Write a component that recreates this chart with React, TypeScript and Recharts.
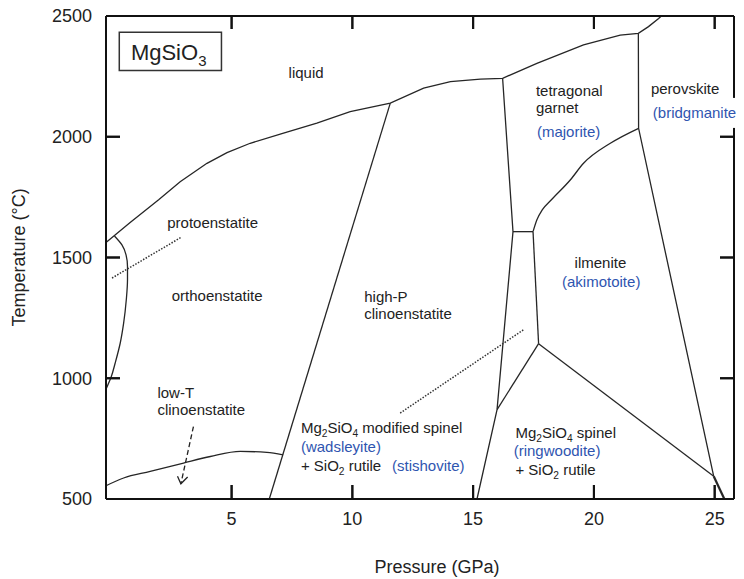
import React from 'react';
import { ComposedChart, Line, XAxis, YAxis, ReferenceArea, ReferenceDot } from 'recharts';

const FONT = '"Liberation Sans", Arial, Helvetica, sans-serif';
const INK = '#222222';
const BLUE = '#2f55b0';

// axis ticks
const xTicks = [5, 10, 15, 20, 25];
const yTicks = [500, 1000, 1500, 2000, 2500];
const yTicksRight = [1000, 1500, 2000];
const xDomain: [number, number] = [-0.2, 25.8];
const yDomain: [number, number] = [500, 2500];

// phase boundaries (p: GPa, t: °C)
const liquidus = [
  { p: -0.2, t: 1562 }, { p: 0.8, t: 1645 }, { p: 1.98, t: 1739 }, { p: 2.87, t: 1814 },
  { p: 3.98, t: 1890 }, { p: 4.81, t: 1934 }, { p: 5.77, t: 1973 }, { p: 7.15, t: 2015 },
  { p: 8.53, t: 2056 }, { p: 9.91, t: 2104 }, { p: 11.57, t: 2139 }, { p: 12.95, t: 2201 },
  { p: 14.06, t: 2228 }, { p: 15.3, t: 2239 }, { p: 16.22, t: 2242 }, { p: 17.64, t: 2304 },
  { p: 19.57, t: 2380 }, { p: 21.09, t: 2421 }, { p: 21.84, t: 2428 }, { p: 22.26, t: 2456 },
  { p: 22.68, t: 2490 }, { p: 22.79, t: 2500 },
];
const protoBoundary = [
  { p: 0.15, t: 1589 }, { p: 0.46, t: 1552 }, { p: 0.63, t: 1511 }, { p: 0.69, t: 1463 },
  { p: 0.69, t: 1408 }, { p: 0.64, t: 1325 }, { p: 0.53, t: 1228 }, { p: 0.39, t: 1146 },
  { p: 0.18, t: 1063 }, { p: 0.02, t: 1007 }, { p: -0.2, t: 955 },
];
const lowTBoundary = [
  { p: -0.2, t: 555 }, { p: 0.53, t: 587 }, { p: 1.63, t: 614 }, { p: 3.01, t: 649 },
  { p: 4.12, t: 676 }, { p: 5.36, t: 697 }, { p: 6.46, t: 693 }, { p: 7.13, t: 683 },
];
const orthoHighP = [{ p: 6.56, t: 500 }, { p: 11.57, t: 2139 }];
const garnetLeft = [{ p: 16.22, t: 2242 }, { p: 16.65, t: 1607 }, { p: 15.99, t: 870 }, { p: 15.16, t: 500 }];
const narrowTop = [{ p: 16.65, t: 1607 }, { p: 17.48, t: 1607 }];
const narrowRight = [{ p: 17.48, t: 1607 }, { p: 17.71, t: 1143 }];
const spinelLeft = [{ p: 17.71, t: 1143 }, { p: 15.99, t: 870 }];
const spinelRight = [{ p: 17.71, t: 1143 }, { p: 24.96, t: 594 }];
const garnetIlmenite = [
  { p: 17.48, t: 1607 }, { p: 17.64, t: 1656 }, { p: 17.86, t: 1697 }, { p: 18.24, t: 1739 },
  { p: 19.02, t: 1821 }, { p: 19.57, t: 1890 }, { p: 20.68, t: 1973 }, { p: 21.85, t: 2035 },
];
const perovskiteBoundary = [{ p: 21.84, t: 2428 }, { p: 21.85, t: 2035 }, { p: 24.96, t: 594 }];
const bottomRight = [{ p: 24.96, t: 594 }, { p: 25.4, t: 500 }];

// pointers
const protoPointer = [{ p: 0.05, t: 1415 }, { p: 2.92, t: 1584 }];
const midPointer = [{ p: 11.98, t: 856 }, { p: 17.09, t: 1201 }];
const arrowShaft = [{ p: 3.42, t: 800 }, { p: 2.9, t: 563 }];
const arrowHead = [{ p: 2.76, t: 594 }, { p: 2.9, t: 563 }, { p: 3.18, t: 591 }];

// labels (left edge, baseline) ; "_n" marks a subscript
const blackLabels = [
  { p: 2.335, t: 1623, text: 'protoenstatite' },
  { p: 2.52, t: 1321, text: 'orthoenstatite' },
  { p: 1.93, t: 918, text: 'low-T' },
  { p: 1.93, t: 849, text: 'clinoenstatite' },
  { p: 7.36, t: 2243, text: 'liquid' },
  { p: 17.6, t: 2169, text: 'tetragonal' },
  { p: 17.6, t: 2097, text: 'garnet' },
  { p: 22.36, t: 2177, text: 'perovskite' },
  { p: 10.49, t: 1316, text: 'high-P' },
  { p: 10.49, t: 1246, text: 'clinoenstatite' },
  { p: 19.2, t: 1457, text: 'ilmenite' },
  { p: 7.87, t: 773, text: 'Mg_2SiO_4 modified spinel' },
  { p: 7.87, t: 614, text: '+ SiO_2 rutile' },
  { p: 16.75, t: 754, text: 'Mg_2SiO_4 spinel' },
  { p: 16.75, t: 598, text: '+ SiO_2 rutile' },
];
const blueLabels = [
  { p: 17.64, t: 2000, text: '(majorite)' },
  { p: 18.68, t: 1378, text: '(akimotoite)' },
  { p: 7.87, t: 694, text: '(wadsleyite)' },
  { p: 11.64, t: 614, text: '(stishovite)' },
  { p: 16.68, t: 676, text: '(ringwoodite)' },
];
const blueEdgeLabels = [{ p: 22.44, t: 2078, text: '(bridgmanite)' }];
const titleLabel = [{ p: 0.83, t: 2318, text: 'MgSiO_3' }];
const titleBox = { p1: 0.35, p2: 4.58, t1: 2274, t2: 2433 };

// plot size in px, used to express the inward tick length in data units
const PLOT_W = 628;
const PLOT_H = 483;
const TICK_LEN = 14;
const TICK_STROKE = '#111';
const tickDP = (TICK_LEN * (xDomain[1] - xDomain[0])) / PLOT_W;
const tickDT = (TICK_LEN * (yDomain[1] - yDomain[0])) / PLOT_H;

const bottomTickMarks = xTicks.flatMap((v) => [
  { p: v, t: yDomain[0] }, { p: v, t: yDomain[0] + tickDT }, { p: v, t: null },
]);
const topTickMarks = xTicks.flatMap((v) => [
  { p: v, t: yDomain[1] }, { p: v, t: yDomain[1] - tickDT * 0.93 }, { p: v, t: null },
]);
const leftTickMarks = yTicks.flatMap((v) => [
  { p: xDomain[0], t: v }, { p: xDomain[0] + tickDP, t: v }, { p: xDomain[0] + tickDP, t: null },
]);
const rightTickMarks = yTicksRight.flatMap((v) => [
  { p: xDomain[1], t: v }, { p: xDomain[1] - tickDP, t: v }, { p: xDomain[1] - tickDP, t: null },
]);

function RichText({ x, y, text, color, size, backing }: any) {
  const parts = String(text).split(/(_\d)/).filter((s) => s.length > 0);
  const shift = size * 0.26;
  let sub = false;
  const kids: any[] = [];
  parts.forEach((part, i) => {
    if (part.startsWith('_')) {
      kids.push(
        <tspan key={i} fontSize={size * 0.68} dy={shift}>
          {part.slice(1)}
        </tspan>
      );
      sub = true;
    } else {
      kids.push(
        <tspan key={i} dy={sub ? -shift : 0}>
          {part}
        </tspan>
      );
      sub = false;
    }
  });
  return (
    <g>
      {backing ? <rect x={x - 2} y={y - 20} width={94} height={30} fill="#fff" /> : null}
      <text x={x} y={y} fill={color} fontSize={size} fontFamily={FONT} style={{ whiteSpace: 'pre' }}>
        {kids}
      </text>
    </g>
  );
}

const renderLabels = (items: any[], color: string, size: number, prefix: string, backing = false) =>
  items.map((d, i) => (
    <ReferenceDot
      key={prefix + i}
      x={d.p}
      y={d.t}
      r={0}
      ifOverflow="visible"
      shape={(props: any) => (
        <RichText x={props.cx} y={props.cy} text={d.text} color={color} size={size} backing={backing} />
      )}
    />
  ));

// custom ticks: inward tick marks + labels
const BottomTick = (props: any) => {
  const { x, y, payload } = props;
  return (
    <g>
      <line x1={x} x2={x} y1={y} y2={y - TICK_LEN} stroke={TICK_STROKE} strokeWidth={2} />
      <text x={x} y={y + 13} dy="0.71em" textAnchor="middle" fill={INK} fontSize={18} fontFamily={FONT}>
        {payload.value}
      </text>
    </g>
  );
};
const LeftTick = (props: any) => {
  const { x, y, payload } = props;
  return (
    <g>
      <line x1={x} x2={x + TICK_LEN} y1={y} y2={y} stroke={TICK_STROKE} strokeWidth={2} />
      <text x={x - 14} y={y} dy="0.36em" textAnchor="end" fill={INK} fontSize={18} fontFamily={FONT}>
        {payload.value}
      </text>
    </g>
  );
};
const TopTick = (props: any) => {
  const { x, y } = props;
  return <line x1={x} x2={x} y1={y} y2={y + 13} stroke={TICK_STROKE} strokeWidth={2} />;
};
const RightTick = (props: any) => {
  const { x, y } = props;
  return <line x1={x} x2={x - TICK_LEN} y1={y} y2={y} stroke={TICK_STROKE} strokeWidth={2} />;
};

const lineProps = {
  dataKey: 't',
  dot: false,
  activeDot: false,
  isAnimationActive: false,
  stroke: '#262626',
  strokeWidth: 1.3,
  type: 'linear' as const,
};
const tickMarkProps = { ...lineProps, stroke: TICK_STROKE, strokeWidth: 2, connectNulls: false };

const axisLine = { stroke: '#111', strokeWidth: 2 };

export default function App() {
  return (
    <div style={{ fontFamily: FONT, width: 736, height: 571 }}>
      <style>{'.recharts-surface{overflow:visible}'}</style>
      <ComposedChart width={736} height={571} margin={{ top: 7, right: 9, left: 0, bottom: 0 }}>
        <XAxis
          xAxisId={0}
          type="number"
          dataKey="p"
          domain={xDomain}
          ticks={xTicks}
          interval={0}
          height={80}
          axisLine={axisLine}
          tickLine={false}
          tickSize={0}
          tickMargin={0}
          tick={BottomTick}
          label={{ value: 'Pressure (GPa)', position: 'insideBottom', offset: 6, dx: 17, fill: INK, fontSize: 18 }}
        />
        <XAxis
          xAxisId="top"
          orientation="top"
          type="number"
          dataKey="p"
          domain={xDomain}
          ticks={xTicks}
          interval={0}
          height={1}
          axisLine={axisLine}
          tickLine={false}
          tickSize={0}
          tickMargin={0}
          tick={TopTick}
        />
        <YAxis
          yAxisId={0}
          type="number"
          dataKey="t"
          domain={yDomain}
          ticks={yTicks}
          interval={0}
          width={98}
          axisLine={axisLine}
          tickLine={false}
          tickSize={0}
          tickMargin={0}
          tick={LeftTick}
          label={{ value: 'Temperature (°C)', angle: -90, position: 'center', dx: -38.5, fill: INK, fontSize: 18 }}
        />
        <YAxis
          yAxisId="right"
          orientation="right"
          type="number"
          dataKey="t"
          domain={yDomain}
          ticks={yTicksRight}
          interval={0}
          width={1}
          axisLine={axisLine}
          tickLine={false}
          tickSize={0}
          tickMargin={0}
          tick={RightTick}
        />
        <ReferenceArea
          x1={titleBox.p1}
          x2={titleBox.p2}
          y1={titleBox.t1}
          y2={titleBox.t2}
          fill="#fff"
          fillOpacity={1}
          stroke="#333"
          strokeWidth={1.5}
        />
        <Line data={bottomTickMarks} {...tickMarkProps} />
        <Line data={topTickMarks} {...tickMarkProps} />
        <Line data={leftTickMarks} {...tickMarkProps} />
        <Line data={rightTickMarks} {...tickMarkProps} />
        <Line data={liquidus} {...lineProps} />
        <Line data={protoBoundary} {...lineProps} type="monotoneY" />
        <Line data={lowTBoundary} {...lineProps} type="monotone" />
        <Line data={orthoHighP} {...lineProps} />
        <Line data={garnetLeft} {...lineProps} />
        <Line data={narrowTop} {...lineProps} />
        <Line data={narrowRight} {...lineProps} />
        <Line data={spinelLeft} {...lineProps} />
        <Line data={spinelRight} {...lineProps} />
        <Line data={garnetIlmenite} {...lineProps} type="monotone" />
        <Line data={perovskiteBoundary} {...lineProps} xAxisId="top" yAxisId="right" />
        <Line data={bottomRight} {...lineProps} strokeWidth={2.2} />
        <Line data={protoPointer} {...lineProps} stroke="#333" strokeWidth={1.5} strokeDasharray="1.5 1.5" />
        <Line data={midPointer} {...lineProps} stroke="#333" strokeWidth={1.5} strokeDasharray="1.5 1.5" />
        <Line data={arrowShaft} {...lineProps} stroke="#222" strokeWidth={1.3} strokeDasharray="5 3" />
        <Line data={arrowHead} {...lineProps} stroke="#222" strokeWidth={1.3} />
        {renderLabels(blackLabels, INK, 15, 'b')}
        {renderLabels(blueLabels, BLUE, 15, 'u')}
        {renderLabels(blueEdgeLabels, BLUE, 15, 'e', true)}
        {renderLabels(titleLabel, INK, 22, 't')}
      </ComposedChart>
    </div>
  );
}
